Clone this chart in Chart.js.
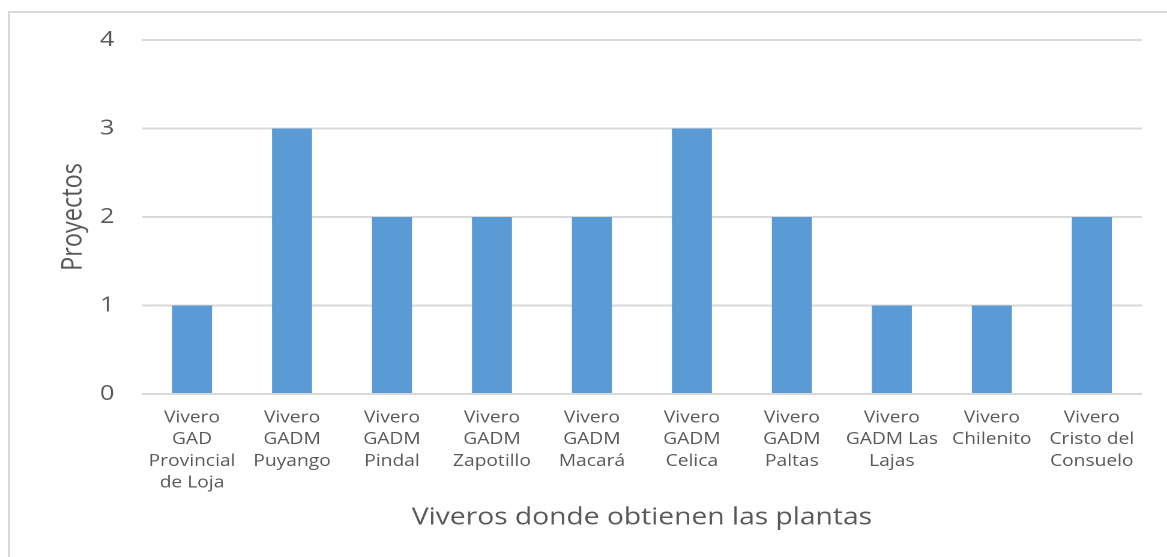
<!DOCTYPE html>
<html>
<head>
<meta charset="utf-8">
<script src="https://cdn.jsdelivr.net/npm/chart.js@4.4.0/dist/chart.umd.min.js"></script>
<style>
	html, body { margin: 0; padding: 0; background: #fff; overflow: hidden; }
	#wrap { position: relative; width: 1167px; height: 557px; }
	#frame { position: absolute; left: 8px; top: 11px; width: 1300px; height: 700px; border-left: 2px solid #d9d9d9; border-top: 2px solid #d9d9d9; }
	/* the original picture is stretched sideways, so the canvas is too */
	#viverosChart { position: absolute; left: 0; top: 0; }
</style>
</head>
<body>
<div id="wrap">
	<div id="frame"></div>
	<canvas id="viverosChart" width="972" height="557" style="width:1167px;height:557px"></canvas>
</div>
<script>
var viveros = [
	["Vivero", "GAD", "Provincial", "de Loja"],
	["Vivero", "GADM", "Puyango"],
	["Vivero", "GADM", "Pindal"],
	["Vivero", "GADM", "Zapotillo"],
	["Vivero", "GADM", "Macará"],
	["Vivero", "GADM", "Celica"],
	["Vivero", "GADM", "Paltas"],
	["Vivero", "GADM Las", "Lajas"],
	["Vivero", "Chilenito"],
	["Vivero", "Cristo del", "Consuelo"]
];
var proyectos = [1, 3, 2, 2, 2, 3, 2, 1, 1, 2];
var yMin = 0;
var yMax = 4;
var yStep = 1;

function renderChart(){
	var textColor = "#595959";
	var fontName = "'Open Sans', sans-serif";

	new Chart('viverosChart', {
		type: 'bar',
		data: {
			labels: viveros,
			datasets: [{
				label: 'Proyectos',
				data: proyectos,
				backgroundColor: "#5B9BD5",
				borderWidth: 0,
				barPercentage: 0.4,
				categoryPercentage: 1
			}]
		},
		options: {
			responsive: false,
			animation: false,
			devicePixelRatio: 2,
			layout: { padding: { top: 40, right: 21, left: 0, bottom: 0 } },
			plugins: {
				legend: { display: false },
				tooltip: { enabled: false }
			},
			scales: {
				x: {
					grid: { display: false, drawTicks: false },
					border: { display: false },
					ticks: {
						color: textColor,
						font: { family: fontName, size: 16, lineHeight: 1.36 },
						padding: 13,
						maxRotation: 0,
						autoSkip: false
					},
					title: {
						display: true,
						text: 'Viveros donde obtienen las plantas',
						color: textColor,
						font: { family: fontName, size: 23.5, lineHeight: 1.2 },
						padding: { top: 0, bottom: 25 }
					},
					afterFit: function(scale){ scale.height = 163; }
				},
				y: {
					min: yMin,
					max: yMax,
					grid: { color: "#d9d9d9", lineWidth: 2, drawTicks: false },
					border: { display: false },
					ticks: {
						stepSize: yStep,
						color: textColor,
						font: { family: fontName, size: 21 },
						padding: 23
					},
					title: {
						display: true,
						text: 'Proyectos',
						color: textColor,
						font: { family: fontName, size: 23.5, lineHeight: 1.2 },
						padding: { top: 47, bottom: 0 }
					},
					afterFit: function(scale){ scale.width = 118.3; }
				}
			}
		}
	});
}
renderChart();
</script>
</body>
</html>
